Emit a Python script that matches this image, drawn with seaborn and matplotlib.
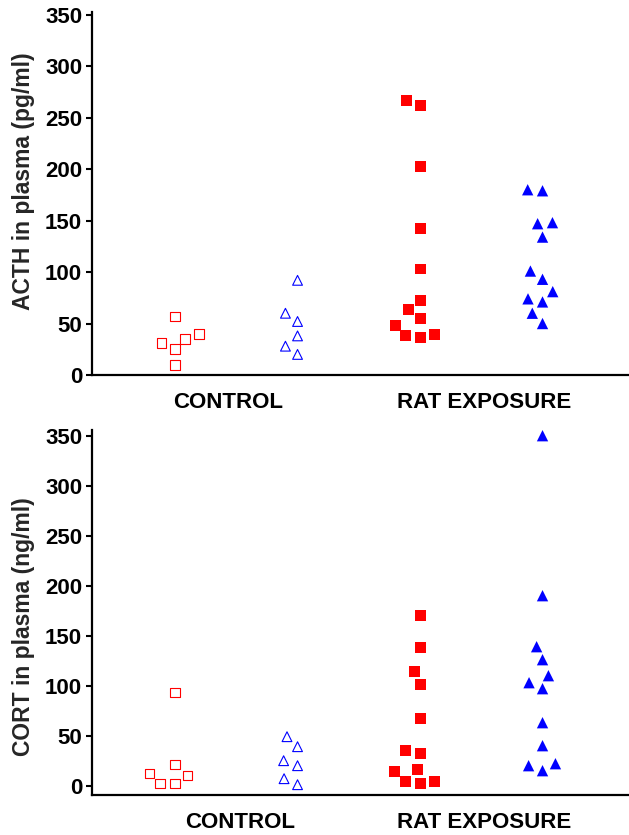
import matplotlib
matplotlib.use("Agg")
import matplotlib.pyplot as plt
from matplotlib.markers import MarkerStyle
from matplotlib.transforms import Affine2D
import seaborn as sns
import pandas as pd

# Plasma hormone levels per animal
groups = ["ctrl_sq", "ctrl_tri", "rat_sq", "rat_tri"]
group_labels = ["CONTROL", "RAT EXPOSURE"]

acth_ctrl_sq = [57, 40, 31, 35, 25, 10]
acth_ctrl_tri = [92, 60, 52, 38, 28, 20]
acth_rat_sq = [262, 267, 203, 142, 103, 72, 64, 55, 48, 39, 36, 38]
acth_rat_tri = [179, 180, 148, 147, 134, 101, 93, 81, 74, 71, 60, 50]

cort_ctrl_sq = [93, 21, 10, 12, 2, 2]
cort_ctrl_tri = [49, 39, 25, 20, 7, 1]
cort_rat_sq = [170, 138, 114, 101, 67, 35, 32, 16, 14, 4, 2, 4]
cort_rat_tri = [350, 190, 139, 126, 110, 103, 97, 63, 40, 22, 20, 15]

y_ticks = [0, 50, 100, 150, 200, 250, 300, 350]

sns.set_style("ticks")
plt.rcParams["font.family"] = ["Liberation Sans", "DejaVu Sans"]
plt.rcParams["font.weight"] = "bold"


def shrunk(marker, factor):
    # glyph drawn smaller than its nominal size, so the swarm keeps a gap
    return MarkerStyle(marker, transform=Affine2D().scale(factor))


styles = {
    "ctrl_sq": dict(marker=shrunk("s", 0.735), color="#ff0000",
                    facecolor="none", edgecolor="#ff0000",
                    linewidth=0.8, size=9.4),
    "ctrl_tri": dict(marker=shrunk("^", 0.75), color="#0000ff",
                     facecolor="none", edgecolor="#0000ff",
                     linewidth=0.8, size=9.4),
    "rat_sq": dict(marker=shrunk("s", 0.775), color="#ff0000",
                   edgecolor="none", linewidth=0, size=10.2),
    "rat_tri": dict(marker=shrunk("^", 0.8), color="#0000ff",
                    edgecolor="none", linewidth=0, size=10.2),
}

W, H = 629, 835
fig = plt.figure(figsize=(W / 100, H / 100), dpi=100)
ax_top = fig.add_axes([92 / W, 1 - 375 / H, 537 / W, 363.3 / H])
ax_bot = fig.add_axes([92 / W, 1 - 795 / H, 537 / W, 365 / H])


def draw_panel(ax, series, ylabel, ylim, label_xpos, label_coords):
    for key, vals in zip(groups, series):
        df = pd.DataFrame({"group": key, "value": vals})
        sns.swarmplot(data=df, x="group", y="value", order=groups, ax=ax,
                      zorder=3, **styles[key])
    ax.set_xlim(-0.678, 3.706)
    ax.set_ylim(*ylim)
    ax.set_yticks(y_ticks)
    ax.set_yticklabels([str(t) for t in y_ticks])
    ax.set_xticks(label_xpos)
    ax.set_xticklabels(group_labels)
    ax.set_xlabel("")
    ax.set_ylabel(ylabel, fontsize=16.5, fontweight="bold", va="center")
    ax.yaxis.set_label_coords(*label_coords)
    for side in ("top", "right"):
        ax.spines[side].set_visible(False)
    for side in ("left", "bottom"):
        ax.spines[side].set_linewidth(1.6)
        ax.spines[side].set_color("black")
    ax.tick_params(axis="y", length=4.3, width=1.5, pad=2.8,
                   labelsize=16, colors="black")
    ax.tick_params(axis="x", length=0, pad=12, labelsize=16, colors="black")
    for t in ax.get_xticklabels() + ax.get_yticklabels():
        t.set_fontweight("bold")


draw_panel(ax_top, [acth_ctrl_sq, acth_ctrl_tri, acth_rat_sq, acth_rat_tri],
           "ACTH in plasma (pg/ml)", (0, 353), [0.43, 2.52], (-0.127, 0.534))
draw_panel(ax_bot, [cort_ctrl_sq, cort_ctrl_tri, cort_rat_sq, cort_rat_tri],
           "CORT in plasma (ng/ml)", (-9.3, 355.7), [0.53, 2.52], (-0.127, 0.46))

fig.savefig("out.png", dpi=100)
